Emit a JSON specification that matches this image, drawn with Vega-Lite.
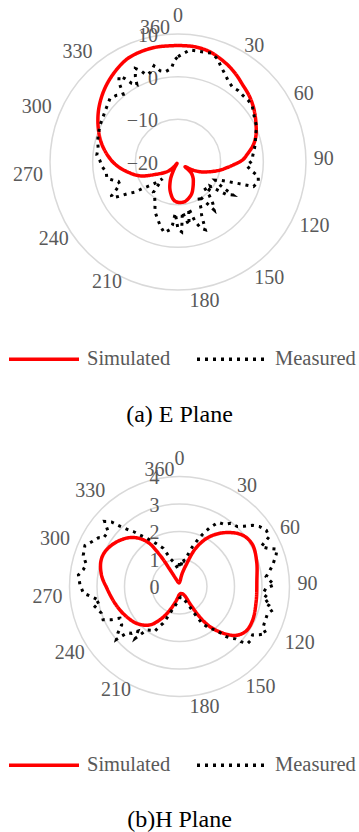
{
  "$schema": "https://vega.github.io/schema/vega-lite/v6.json",
  "padding": 0,
  "spacing": 0,
  "background": "#ffffff",
  "config": {"view": {"stroke": null}, "font": "Times New Roman, Liberation Serif, Times, DejaVu Serif, serif"},
  "datasets": {
    "ticks": [{"deg": 0}, {"deg": 30}, {"deg": 60}, {"deg": 90}, {"deg": 120}, {"deg": 150}, {"deg": 180}, {"deg": 210}, {"deg": 240}, {"deg": 270}, {"deg": 300}, {"deg": 330}, {"deg": 360}],
    "eGrid": [{"v": -20}, {"v": -10}, {"v": 0}, {"v": 10}],
    "hGrid": [{"v": 0}, {"v": 1}, {"v": 2}, {"v": 3}, {"v": 4}],
    "eCurves": [
      {"series": "Simulated", "angle": 0, "value": 7.3}, {"series": "Simulated", "angle": 8, "value": 7.3}, {"series": "Simulated", "angle": 16, "value": 6.9}, {"series": "Simulated", "angle": 26, "value": 5.7}, {"series": "Simulated", "angle": 33, "value": 4.7}, {"series": "Simulated", "angle": 40, "value": 3.6}, {"series": "Simulated", "angle": 47, "value": 2.8}, {"series": "Simulated", "angle": 53, "value": 2.0}, {"series": "Simulated", "angle": 59, "value": 1.1}, {"series": "Simulated", "angle": 65, "value": 0.2}, {"series": "Simulated", "angle": 70, "value": -0.5}, {"series": "Simulated", "angle": 74, "value": -1.2}, {"series": "Simulated", "angle": 78, "value": -2.1}, {"series": "Simulated", "angle": 83, "value": -3.5}, {"series": "Simulated", "angle": 88, "value": -4.8}, {"series": "Simulated", "angle": 93, "value": -7.0}, {"series": "Simulated", "angle": 97, "value": -8.6}, {"series": "Simulated", "angle": 101, "value": -10.0}, {"series": "Simulated", "angle": 107, "value": -12.2}, {"series": "Simulated", "angle": 114, "value": -14.4}, {"series": "Simulated", "angle": 119, "value": -16.3}, {"series": "Simulated", "angle": 124, "value": -18.0}, {"series": "Simulated", "angle": 127, "value": -17.0}, {"series": "Simulated", "angle": 130, "value": -15.9}, {"series": "Simulated", "angle": 137, "value": -14.8}, {"series": "Simulated", "angle": 144, "value": -13.9}, {"series": "Simulated", "angle": 150, "value": -13.0}, {"series": "Simulated", "angle": 156, "value": -12.0}, {"series": "Simulated", "angle": 163, "value": -11.2}, {"series": "Simulated", "angle": 170, "value": -10.6}, {"series": "Simulated", "angle": 177, "value": -10.5}, {"series": "Simulated", "angle": 183, "value": -10.7}, {"series": "Simulated", "angle": 188, "value": -11.3}, {"series": "Simulated", "angle": 196, "value": -13.2}, {"series": "Simulated", "angle": 201, "value": -14.8}, {"series": "Simulated", "angle": 205, "value": -16.2}, {"series": "Simulated", "angle": 210, "value": -18.5}, {"series": "Simulated", "angle": 215, "value": -19.6}, {"series": "Simulated", "angle": 220, "value": -18.5}, {"series": "Simulated", "angle": 226, "value": -17.0}, {"series": "Simulated", "angle": 232, "value": -16.0}, {"series": "Simulated", "angle": 240, "value": -14.3}, {"series": "Simulated", "angle": 250, "value": -10.5}, {"series": "Simulated", "angle": 260, "value": -7.6}, {"series": "Simulated", "angle": 266, "value": -5.8}, {"series": "Simulated", "angle": 273, "value": -4.0}, {"series": "Simulated", "angle": 283, "value": -1.7}, {"series": "Simulated", "angle": 293, "value": 0.3}, {"series": "Simulated", "angle": 304, "value": 2.4}, {"series": "Simulated", "angle": 315, "value": 4.3}, {"series": "Simulated", "angle": 325, "value": 5.8}, {"series": "Simulated", "angle": 334, "value": 6.95}, {"series": "Simulated", "angle": 342, "value": 7.3}, {"series": "Simulated", "angle": 350, "value": 7.4}, {"series": "Simulated", "angle": 360, "value": 7.3},
      {"series": "Measured", "angle": 0, "value": 4.7}, {"series": "Measured", "angle": 3, "value": 5.5}, {"series": "Measured", "angle": 6, "value": 6.4}, {"series": "Measured", "angle": 10, "value": 6.4}, {"series": "Measured", "angle": 14, "value": 6.5}, {"series": "Measured", "angle": 17, "value": 6.7}, {"series": "Measured", "angle": 21, "value": 5.9}, {"series": "Measured", "angle": 24, "value": 4.6}, {"series": "Measured", "angle": 28, "value": 3.4}, {"series": "Measured", "angle": 32, "value": 2.3}, {"series": "Measured", "angle": 36, "value": 1.7}, {"series": "Measured", "angle": 40, "value": 1.9}, {"series": "Measured", "angle": 44, "value": 1.8}, {"series": "Measured", "angle": 49, "value": 1.9}, {"series": "Measured", "angle": 53, "value": 1.8}, {"series": "Measured", "angle": 57, "value": 1.1}, {"series": "Measured", "angle": 61, "value": 0.6}, {"series": "Measured", "angle": 66, "value": 0.2}, {"series": "Measured", "angle": 71, "value": -0.8}, {"series": "Measured", "angle": 76, "value": -1.3}, {"series": "Measured", "angle": 80, "value": -1.8}, {"series": "Measured", "angle": 85, "value": -2.4}, {"series": "Measured", "angle": 89, "value": -2.6}, {"series": "Measured", "angle": 93, "value": -3.9}, {"series": "Measured", "angle": 97, "value": -2.6}, {"series": "Measured", "angle": 100, "value": -0.9}, {"series": "Measured", "angle": 104, "value": -0.6}, {"series": "Measured", "angle": 108, "value": -1.4}, {"series": "Measured", "angle": 109.5, "value": -4.8}, {"series": "Measured", "angle": 111, "value": -7.0}, {"series": "Measured", "angle": 113, "value": -9.0}, {"series": "Measured", "angle": 116, "value": -10.3}, {"series": "Measured", "angle": 119, "value": -8.6}, {"series": "Measured", "angle": 121, "value": -5.0}, {"series": "Measured", "angle": 124, "value": -6.5}, {"series": "Measured", "angle": 127, "value": -10.5}, {"series": "Measured", "angle": 131, "value": -9.5}, {"series": "Measured", "angle": 134, "value": -11.5}, {"series": "Measured", "angle": 137, "value": -9.2}, {"series": "Measured", "angle": 140, "value": -7.3}, {"series": "Measured", "angle": 143, "value": -5.9}, {"series": "Measured", "angle": 146, "value": -9.0}, {"series": "Measured", "angle": 148, "value": -10.8}, {"series": "Measured", "angle": 151, "value": -9.7}, {"series": "Measured", "angle": 154, "value": -7.5}, {"series": "Measured", "angle": 156, "value": -6.4}, {"series": "Measured", "angle": 158, "value": -2.9}, {"series": "Measured", "angle": 161, "value": -3.6}, {"series": "Measured", "angle": 164, "value": -5.5}, {"series": "Measured", "angle": 167, "value": -8.9}, {"series": "Measured", "angle": 170, "value": -5.0}, {"series": "Measured", "angle": 172, "value": -6.3}, {"series": "Measured", "angle": 175, "value": -8.3}, {"series": "Measured", "angle": 177, "value": -3.6}, {"series": "Measured", "angle": 180, "value": -4.2}, {"series": "Measured", "angle": 183, "value": -8.0}, {"series": "Measured", "angle": 185, "value": -5.2}, {"series": "Measured", "angle": 187, "value": -4.0}, {"series": "Measured", "angle": 191, "value": -3.1}, {"series": "Measured", "angle": 195, "value": -4.3}, {"series": "Measured", "angle": 199, "value": -5.6}, {"series": "Measured", "angle": 205, "value": -7.2}, {"series": "Measured", "angle": 209, "value": -8.9}, {"series": "Measured", "angle": 214, "value": -10.2}, {"series": "Measured", "angle": 219, "value": -10.8}, {"series": "Measured", "angle": 223, "value": -14.6}, {"series": "Measured", "angle": 226, "value": -13.2}, {"series": "Measured", "angle": 229, "value": -11.8}, {"series": "Measured", "angle": 233, "value": -9.8}, {"series": "Measured", "angle": 235, "value": -7.7}, {"series": "Measured", "angle": 238, "value": -5.9}, {"series": "Measured", "angle": 240, "value": -3.8}, {"series": "Measured", "angle": 241.5, "value": -2.4}, {"series": "Measured", "angle": 243, "value": -2.5}, {"series": "Measured", "angle": 246, "value": -4.2}, {"series": "Measured", "angle": 249, "value": -5.4}, {"series": "Measured", "angle": 252, "value": -5.3}, {"series": "Measured", "angle": 255, "value": -3.9}, {"series": "Measured", "angle": 257, "value": -2.9}, {"series": "Measured", "angle": 262, "value": -3.0}, {"series": "Measured", "angle": 267, "value": -2.1}, {"series": "Measured", "angle": 271, "value": -1.7}, {"series": "Measured", "angle": 275, "value": -0.9}, {"series": "Measured", "angle": 280, "value": -1.0}, {"series": "Measured", "angle": 284, "value": -0.6}, {"series": "Measured", "angle": 288, "value": -0.3}, {"series": "Measured", "angle": 295, "value": 0.2}, {"series": "Measured", "angle": 301, "value": 0.5}, {"series": "Measured", "angle": 308, "value": 1.15}, {"series": "Measured", "angle": 313, "value": 1.8}, {"series": "Measured", "angle": 317, "value": 1.3}, {"series": "Measured", "angle": 321, "value": 0.4}, {"series": "Measured", "angle": 323.5, "value": 3.3}, {"series": "Measured", "angle": 325.5, "value": 4.4}, {"series": "Measured", "angle": 327.5, "value": 3.2}, {"series": "Measured", "angle": 329.5, "value": 1.4}, {"series": "Measured", "angle": 332, "value": 0.5}, {"series": "Measured", "angle": 333.5, "value": 2.4}, {"series": "Measured", "angle": 335.5, "value": 4.1}, {"series": "Measured", "angle": 338, "value": 3.0}, {"series": "Measured", "angle": 340, "value": 1.7}, {"series": "Measured", "angle": 343, "value": 2.0}, {"series": "Measured", "angle": 346, "value": 3.25}, {"series": "Measured", "angle": 349, "value": 1.75}, {"series": "Measured", "angle": 352, "value": 1.35}, {"series": "Measured", "angle": 356, "value": 2.0}, {"series": "Measured", "angle": 358, "value": 3.9}, {"series": "Measured", "angle": 360, "value": 4.7}
    ],
    "hCurves": [
      {"series": "Simulated", "angle": 0, "value": 0.15}, {"series": "Simulated", "angle": 6, "value": 0.2}, {"series": "Simulated", "angle": 11, "value": 0.45}, {"series": "Simulated", "angle": 17, "value": 0.82}, {"series": "Simulated", "angle": 23, "value": 1.51}, {"series": "Simulated", "angle": 31, "value": 2.11}, {"series": "Simulated", "angle": 41, "value": 2.6}, {"series": "Simulated", "angle": 51, "value": 2.96}, {"series": "Simulated", "angle": 60, "value": 3.06}, {"series": "Simulated", "angle": 72, "value": 2.95}, {"series": "Simulated", "angle": 86, "value": 2.82}, {"series": "Simulated", "angle": 101, "value": 2.84}, {"series": "Simulated", "angle": 115, "value": 2.93}, {"series": "Simulated", "angle": 124, "value": 2.91}, {"series": "Simulated", "angle": 131, "value": 2.71}, {"series": "Simulated", "angle": 137, "value": 2.32}, {"series": "Simulated", "angle": 143, "value": 1.82}, {"series": "Simulated", "angle": 146.5, "value": 1.31}, {"series": "Simulated", "angle": 148.5, "value": 0.79}, {"series": "Simulated", "angle": 151, "value": 0.36}, {"series": "Simulated", "angle": 160, "value": 0.28}, {"series": "Simulated", "angle": 172, "value": 0.26}, {"series": "Simulated", "angle": 182, "value": 0.3}, {"series": "Simulated", "angle": 188, "value": 0.4}, {"series": "Simulated", "angle": 192, "value": 0.5}, {"series": "Simulated", "angle": 202, "value": 0.92}, {"series": "Simulated", "angle": 209, "value": 1.32}, {"series": "Simulated", "angle": 217.5, "value": 1.76}, {"series": "Simulated", "angle": 229, "value": 2.05}, {"series": "Simulated", "angle": 242, "value": 2.24}, {"series": "Simulated", "angle": 255, "value": 2.42}, {"series": "Simulated", "angle": 269, "value": 2.65}, {"series": "Simulated", "angle": 278, "value": 2.86}, {"series": "Simulated", "angle": 287.5, "value": 3.0}, {"series": "Simulated", "angle": 295, "value": 2.99}, {"series": "Simulated", "angle": 305.5, "value": 2.8}, {"series": "Simulated", "angle": 316, "value": 2.48}, {"series": "Simulated", "angle": 324, "value": 2.02}, {"series": "Simulated", "angle": 328, "value": 1.35}, {"series": "Simulated", "angle": 330.5, "value": 0.69}, {"series": "Simulated", "angle": 335, "value": 0.3}, {"series": "Simulated", "angle": 345, "value": 0.15}, {"series": "Simulated", "angle": 355, "value": 0.13}, {"series": "Simulated", "angle": 360, "value": 0.15},
      {"series": "Measured", "angle": 0, "value": 0.85}, {"series": "Measured", "angle": 3, "value": 0.67}, {"series": "Measured", "angle": 6.5, "value": 1.03}, {"series": "Measured", "angle": 10, "value": 0.95}, {"series": "Measured", "angle": 14.5, "value": 1.18}, {"series": "Measured", "angle": 18, "value": 1.52}, {"series": "Measured", "angle": 22, "value": 1.9}, {"series": "Measured", "angle": 24, "value": 2.09}, {"series": "Measured", "angle": 27, "value": 2.38}, {"series": "Measured", "angle": 31, "value": 2.72}, {"series": "Measured", "angle": 36, "value": 2.79}, {"series": "Measured", "angle": 39, "value": 2.96}, {"series": "Measured", "angle": 44, "value": 3.03}, {"series": "Measured", "angle": 47, "value": 3.21}, {"series": "Measured", "angle": 50, "value": 3.46}, {"series": "Measured", "angle": 53, "value": 3.63}, {"series": "Measured", "angle": 57, "value": 3.76}, {"series": "Measured", "angle": 61, "value": 3.73}, {"series": "Measured", "angle": 62.5, "value": 3.49}, {"series": "Measured", "angle": 64, "value": 3.3}, {"series": "Measured", "angle": 66.5, "value": 3.49}, {"series": "Measured", "angle": 69, "value": 3.8}, {"series": "Measured", "angle": 72, "value": 3.69}, {"series": "Measured", "angle": 77, "value": 3.48}, {"series": "Measured", "angle": 80.5, "value": 3.31}, {"series": "Measured", "angle": 83.5, "value": 3.17}, {"series": "Measured", "angle": 87, "value": 3.33}, {"series": "Measured", "angle": 89, "value": 3.45}, {"series": "Measured", "angle": 91, "value": 3.15}, {"series": "Measured", "angle": 95, "value": 3.04}, {"series": "Measured", "angle": 98, "value": 3.3}, {"series": "Measured", "angle": 101, "value": 3.14}, {"series": "Measured", "angle": 102, "value": 3.33}, {"series": "Measured", "angle": 104, "value": 3.5}, {"series": "Measured", "angle": 107, "value": 3.35}, {"series": "Measured", "angle": 110, "value": 3.35}, {"series": "Measured", "angle": 113.5, "value": 3.36}, {"series": "Measured", "angle": 116.5, "value": 3.39}, {"series": "Measured", "angle": 118.5, "value": 3.58}, {"series": "Measured", "angle": 121, "value": 3.4}, {"series": "Measured", "angle": 123.5, "value": 3.19}, {"series": "Measured", "angle": 127, "value": 3.25}, {"series": "Measured", "angle": 130, "value": 3.23}, {"series": "Measured", "angle": 132, "value": 3.0}, {"series": "Measured", "angle": 133, "value": 2.79}, {"series": "Measured", "angle": 135, "value": 2.66}, {"series": "Measured", "angle": 137, "value": 2.49}, {"series": "Measured", "angle": 140, "value": 2.07}, {"series": "Measured", "angle": 144.5, "value": 1.87}, {"series": "Measured", "angle": 147, "value": 1.67}, {"series": "Measured", "angle": 148.5, "value": 1.6}, {"series": "Measured", "angle": 150, "value": 1.3}, {"series": "Measured", "angle": 151.5, "value": 1.06}, {"series": "Measured", "angle": 153, "value": 0.84}, {"series": "Measured", "angle": 157, "value": 0.6}, {"series": "Measured", "angle": 165, "value": 0.44}, {"series": "Measured", "angle": 172, "value": 0.38}, {"series": "Measured", "angle": 181, "value": 0.43}, {"series": "Measured", "angle": 189.5, "value": 0.62}, {"series": "Measured", "angle": 196, "value": 0.82}, {"series": "Measured", "angle": 199.5, "value": 1.03}, {"series": "Measured", "angle": 202, "value": 1.25}, {"series": "Measured", "angle": 204, "value": 1.46}, {"series": "Measured", "angle": 207, "value": 1.65}, {"series": "Measured", "angle": 209, "value": 1.87}, {"series": "Measured", "angle": 213, "value": 1.9}, {"series": "Measured", "angle": 217, "value": 1.98}, {"series": "Measured", "angle": 220.5, "value": 2.48}, {"series": "Measured", "angle": 223, "value": 2.22}, {"series": "Measured", "angle": 225.5, "value": 2.43}, {"series": "Measured", "angle": 228.5, "value": 2.53}, {"series": "Measured", "angle": 230, "value": 3.0}, {"series": "Measured", "angle": 233, "value": 2.8}, {"series": "Measured", "angle": 236.5, "value": 2.52}, {"series": "Measured", "angle": 242, "value": 2.45}, {"series": "Measured", "angle": 244, "value": 2.75}, {"series": "Measured", "angle": 246.5, "value": 3.03}, {"series": "Measured", "angle": 251, "value": 3.0}, {"series": "Measured", "angle": 254, "value": 3.07}, {"series": "Measured", "angle": 258, "value": 3.21}, {"series": "Measured", "angle": 259.5, "value": 2.94}, {"series": "Measured", "angle": 262, "value": 3.1}, {"series": "Measured", "angle": 264, "value": 3.28}, {"series": "Measured", "angle": 266, "value": 3.5}, {"series": "Measured", "angle": 271, "value": 3.62}, {"series": "Measured", "angle": 276.5, "value": 3.7}, {"series": "Measured", "angle": 280, "value": 3.55}, {"series": "Measured", "angle": 283.5, "value": 3.49}, {"series": "Measured", "angle": 288, "value": 3.68}, {"series": "Measured", "angle": 293.5, "value": 3.75}, {"series": "Measured", "angle": 297, "value": 3.58}, {"series": "Measured", "angle": 301, "value": 3.44}, {"series": "Measured", "angle": 302.5, "value": 3.28}, {"series": "Measured", "angle": 307.5, "value": 3.27}, {"series": "Measured", "angle": 311, "value": 3.61}, {"series": "Measured", "angle": 313.5, "value": 3.41}, {"series": "Measured", "angle": 315.5, "value": 3.07}, {"series": "Measured", "angle": 318, "value": 2.77}, {"series": "Measured", "angle": 320, "value": 2.61}, {"series": "Measured", "angle": 322.5, "value": 2.36}, {"series": "Measured", "angle": 326, "value": 2.12}, {"series": "Measured", "angle": 329.5, "value": 1.89}, {"series": "Measured", "angle": 333, "value": 1.69}, {"series": "Measured", "angle": 337, "value": 1.51}, {"series": "Measured", "angle": 339, "value": 1.29}, {"series": "Measured", "angle": 341.5, "value": 1.08}, {"series": "Measured", "angle": 346, "value": 0.93}, {"series": "Measured", "angle": 352, "value": 0.73}, {"series": "Measured", "angle": 356, "value": 0.62}, {"series": "Measured", "angle": 360, "value": 0.85}
    ]
  },
  "resolve": {
    "scale": {"x": "independent", "y": "independent", "color": "independent", "strokeDash": "independent", "size": "independent"},
    "legend": {"color": "independent", "strokeDash": "independent"}
  },
  "vconcat": [
    {
      "width": 359,
      "height": 385,
      "title": {"text": "(a) E Plane", "orient": "bottom", "anchor": "middle", "offset": 18, "font": "Times New Roman, Liberation Serif, Times, DejaVu Serif, serif", "fontSize": 24, "fontWeight": "normal", "color": "#000000"},
      "layer": [
        {
          "data": {"name": "eGrid"},
          "transform": [{"filter": "datum.v > -20"}, {"calculate": "(datum.v + 20) / 30", "as": "rn"}],
          "mark": {"type": "point", "shape": "circle", "filled": false, "stroke": "#d9d9d9", "strokeWidth": 1.5, "opacity": 1},
          "encoding": {
            "x": {"datum": 0, "type": "quantitative", "scale": {"domain": [-1.3906, 1.4141], "nice": false, "zero": false}, "axis": null},
            "y": {"datum": 0, "type": "quantitative", "scale": {"domain": [-1.7422, 1.2656], "nice": false, "zero": false}, "axis": null},
            "size": {"field": "rn", "type": "quantitative", "scale": {"type": "pow", "exponent": 2, "domain": [0, 1], "range": [0, 65536]}, "legend": null}
          }
        },
        {
          "data": {"name": "eGrid"},
          "transform": [{"calculate": "(datum.v + 20) / 30", "as": "rn"}],
          "mark": {"type": "text", "align": "right", "baseline": "middle", "dx": -20, "dy": 2, "fontSize": 20, "color": "#595959"},
          "encoding": {
            "x": {"datum": 0, "type": "quantitative", "scale": {"domain": [-1.3906, 1.4141], "nice": false, "zero": false}, "axis": null},
            "y": {"field": "rn", "type": "quantitative", "scale": {"domain": [-1.7422, 1.2656], "nice": false, "zero": false}, "axis": null},
            "text": {"field": "v", "type": "quantitative"}
          }
        },
        {
          "data": {"name": "ticks"},
          "transform": [{"filter": "datum.deg == 0"}, {"calculate": "datum.deg * 360 / 370 * PI / 180", "as": "t"}, {"calculate": "1.0625 * sin(datum.t)", "as": "px"}, {"calculate": "1.0625 * cos(datum.t)", "as": "py"}],
          "mark": {"type": "text", "align": "center", "baseline": "bottom", "fontSize": 20, "color": "#595959"},
          "encoding": {
            "x": {"field": "px", "type": "quantitative", "scale": {"domain": [-1.3906, 1.4141], "nice": false, "zero": false}, "axis": null},
            "y": {"field": "py", "type": "quantitative", "scale": {"domain": [-1.7422, 1.2656], "nice": false, "zero": false}, "axis": null},
            "text": {"field": "deg", "type": "quantitative"}
          }
        },
        {
          "data": {"name": "ticks"},
          "transform": [{"filter": "datum.deg == 360"}, {"calculate": "datum.deg * 360 / 370 * PI / 180", "as": "t"}, {"calculate": "1.0625 * sin(datum.t)", "as": "px"}, {"calculate": "1.0625 * cos(datum.t)", "as": "py"}],
          "mark": {"type": "text", "align": "center", "baseline": "middle", "fontSize": 20, "color": "#595959"},
          "encoding": {
            "x": {"field": "px", "type": "quantitative", "scale": {"domain": [-1.3906, 1.4141], "nice": false, "zero": false}, "axis": null},
            "y": {"field": "py", "type": "quantitative", "scale": {"domain": [-1.7422, 1.2656], "nice": false, "zero": false}, "axis": null},
            "text": {"field": "deg", "type": "quantitative"}
          }
        },
        {
          "data": {"name": "ticks"},
          "transform": [{"filter": "datum.deg > 0 && datum.deg <= 180"}, {"calculate": "datum.deg * 360 / 370 * PI / 180", "as": "t"}, {"calculate": "1.0625 * sin(datum.t)", "as": "px"}, {"calculate": "1.0625 * cos(datum.t)", "as": "py"}],
          "mark": {"type": "text", "align": "left", "baseline": "middle", "dy": 3, "fontSize": 20, "color": "#595959"},
          "encoding": {
            "x": {"field": "px", "type": "quantitative", "scale": {"domain": [-1.3906, 1.4141], "nice": false, "zero": false}, "axis": null},
            "y": {"field": "py", "type": "quantitative", "scale": {"domain": [-1.7422, 1.2656], "nice": false, "zero": false}, "axis": null},
            "text": {"field": "deg", "type": "quantitative"}
          }
        },
        {
          "data": {"name": "ticks"},
          "transform": [{"filter": "datum.deg > 180 && datum.deg < 360"}, {"calculate": "datum.deg * 360 / 370 * PI / 180", "as": "t"}, {"calculate": "1.0625 * sin(datum.t)", "as": "px"}, {"calculate": "1.0625 * cos(datum.t)", "as": "py"}],
          "mark": {"type": "text", "align": "right", "baseline": "middle", "dy": -4, "fontSize": 20, "color": "#595959"},
          "encoding": {
            "x": {"field": "px", "type": "quantitative", "scale": {"domain": [-1.3906, 1.4141], "nice": false, "zero": false}, "axis": null},
            "y": {"field": "py", "type": "quantitative", "scale": {"domain": [-1.7422, 1.2656], "nice": false, "zero": false}, "axis": null},
            "text": {"field": "deg", "type": "quantitative"}
          }
        },
        {
          "data": {"name": "eCurves"},
          "transform": [{"filter": "datum.series == 'Simulated'"}, {"calculate": "(datum.value + 20) / 30", "as": "rn"}, {"calculate": "datum.rn * sin(datum.angle * PI / 180)", "as": "px"}, {"calculate": "datum.rn * cos(datum.angle * PI / 180)", "as": "py"}],
          "mark": {"type": "line", "interpolate": "catmull-rom", "strokeWidth": 3.5, "strokeJoin": "round"},
          "encoding": {
            "x": {"field": "px", "type": "quantitative", "scale": {"domain": [-1.3906, 1.4141], "nice": false, "zero": false}, "axis": null},
            "y": {"field": "py", "type": "quantitative", "scale": {"domain": [-1.7422, 1.2656], "nice": false, "zero": false}, "axis": null},
            "order": {"field": "angle", "type": "quantitative"},
            "color": {"field": "series", "type": "nominal", "scale": {"domain": ["Simulated", "Measured"], "range": ["#ff0000", "#000000"]}, "legend": {"title": null, "orient": "none", "legendX": 7, "legendY": 322, "direction": "horizontal", "symbolType": "stroke", "symbolSize": 4900, "symbolStrokeWidth": 3.5, "labelFontSize": 20.5, "labelColor": "#595959", "labelOffset": 6, "columnPadding": 19, "padding": 0}},
            "strokeDash": {"field": "series", "type": "nominal", "scale": {"domain": ["Simulated", "Measured"], "range": [[1, 0], [3, 5]]}, "legend": {"title": null, "orient": "none", "legendX": 7, "legendY": 322, "direction": "horizontal", "symbolType": "stroke", "symbolSize": 4900, "symbolStrokeWidth": 3.5, "labelFontSize": 20.5, "labelColor": "#595959", "labelOffset": 6, "columnPadding": 19, "padding": 0}}
          }
        },
        {
          "data": {"name": "eCurves"},
          "transform": [{"filter": "datum.series == 'Measured'"}, {"calculate": "(datum.value + 20) / 30", "as": "rn"}, {"calculate": "datum.rn * sin(datum.angle * PI / 180)", "as": "px"}, {"calculate": "datum.rn * cos(datum.angle * PI / 180)", "as": "py"}],
          "mark": {"type": "line", "interpolate": "linear", "strokeWidth": 3},
          "encoding": {
            "x": {"field": "px", "type": "quantitative", "scale": {"domain": [-1.3906, 1.4141], "nice": false, "zero": false}, "axis": null},
            "y": {"field": "py", "type": "quantitative", "scale": {"domain": [-1.7422, 1.2656], "nice": false, "zero": false}, "axis": null},
            "order": {"field": "angle", "type": "quantitative"},
            "color": {"field": "series", "type": "nominal", "scale": {"domain": ["Simulated", "Measured"], "range": ["#ff0000", "#000000"]}},
            "strokeDash": {"field": "series", "type": "nominal", "scale": {"domain": ["Simulated", "Measured"], "range": [[1, 0], [3, 5]]}}
          }
        }
      ]
    },
    {
      "width": 359,
      "height": 365,
      "title": {"text": "(b)H Plane", "orient": "bottom", "anchor": "middle", "offset": 16, "font": "Times New Roman, Liberation Serif, Times, DejaVu Serif, serif", "fontSize": 24, "fontWeight": "normal", "color": "#000000"},
      "layer": [
        {
          "data": {"name": "hGrid"},
          "transform": [{"filter": "datum.v > 0"}, {"calculate": "datum.v / 4", "as": "rn"}],
          "mark": {"type": "point", "shape": "circle", "filled": false, "stroke": "#d9d9d9", "strokeWidth": 1.5, "opacity": 1},
          "encoding": {
            "x": {"datum": 0, "type": "quantitative", "scale": {"domain": [-1.6318, 1.6318], "nice": false, "zero": false}, "axis": null},
            "y": {"datum": 0, "type": "quantitative", "scale": {"domain": [-1.8682, 1.45], "nice": false, "zero": false}, "axis": null},
            "size": {"field": "rn", "type": "quantitative", "scale": {"type": "pow", "exponent": 2, "domain": [0, 1], "range": [0, 48400]}, "legend": null}
          }
        },
        {
          "data": {"name": "hGrid"},
          "transform": [{"calculate": "datum.v / 4", "as": "rn"}],
          "mark": {"type": "text", "align": "right", "baseline": "middle", "dx": -20, "dy": 2, "fontSize": 20, "color": "#595959"},
          "encoding": {
            "x": {"datum": 0, "type": "quantitative", "scale": {"domain": [-1.6318, 1.6318], "nice": false, "zero": false}, "axis": null},
            "y": {"field": "rn", "type": "quantitative", "scale": {"domain": [-1.8682, 1.45], "nice": false, "zero": false}, "axis": null},
            "text": {"field": "v", "type": "quantitative"}
          }
        },
        {
          "data": {"name": "ticks"},
          "transform": [{"filter": "datum.deg == 0"}, {"calculate": "datum.deg * 360 / 370 * PI / 180", "as": "t"}, {"calculate": "1.0727 * sin(datum.t)", "as": "px"}, {"calculate": "1.0727 * cos(datum.t)", "as": "py"}],
          "mark": {"type": "text", "align": "center", "baseline": "bottom", "fontSize": 20, "color": "#595959"},
          "encoding": {
            "x": {"field": "px", "type": "quantitative", "scale": {"domain": [-1.6318, 1.6318], "nice": false, "zero": false}, "axis": null},
            "y": {"field": "py", "type": "quantitative", "scale": {"domain": [-1.8682, 1.45], "nice": false, "zero": false}, "axis": null},
            "text": {"field": "deg", "type": "quantitative"}
          }
        },
        {
          "data": {"name": "ticks"},
          "transform": [{"filter": "datum.deg == 360"}, {"calculate": "datum.deg * 360 / 370 * PI / 180", "as": "t"}, {"calculate": "1.0727 * sin(datum.t)", "as": "px"}, {"calculate": "1.0727 * cos(datum.t)", "as": "py"}],
          "mark": {"type": "text", "align": "center", "baseline": "middle", "fontSize": 20, "color": "#595959"},
          "encoding": {
            "x": {"field": "px", "type": "quantitative", "scale": {"domain": [-1.6318, 1.6318], "nice": false, "zero": false}, "axis": null},
            "y": {"field": "py", "type": "quantitative", "scale": {"domain": [-1.8682, 1.45], "nice": false, "zero": false}, "axis": null},
            "text": {"field": "deg", "type": "quantitative"}
          }
        },
        {
          "data": {"name": "ticks"},
          "transform": [{"filter": "datum.deg > 0 && datum.deg <= 180"}, {"calculate": "datum.deg * 360 / 370 * PI / 180", "as": "t"}, {"calculate": "1.0727 * sin(datum.t)", "as": "px"}, {"calculate": "1.0727 * cos(datum.t)", "as": "py"}],
          "mark": {"type": "text", "align": "left", "baseline": "middle", "dy": 3, "fontSize": 20, "color": "#595959"},
          "encoding": {
            "x": {"field": "px", "type": "quantitative", "scale": {"domain": [-1.6318, 1.6318], "nice": false, "zero": false}, "axis": null},
            "y": {"field": "py", "type": "quantitative", "scale": {"domain": [-1.8682, 1.45], "nice": false, "zero": false}, "axis": null},
            "text": {"field": "deg", "type": "quantitative"}
          }
        },
        {
          "data": {"name": "ticks"},
          "transform": [{"filter": "datum.deg > 180 && datum.deg < 360"}, {"calculate": "datum.deg * 360 / 370 * PI / 180", "as": "t"}, {"calculate": "1.0727 * sin(datum.t)", "as": "px"}, {"calculate": "1.0727 * cos(datum.t)", "as": "py"}],
          "mark": {"type": "text", "align": "right", "baseline": "middle", "dy": -4, "fontSize": 20, "color": "#595959"},
          "encoding": {
            "x": {"field": "px", "type": "quantitative", "scale": {"domain": [-1.6318, 1.6318], "nice": false, "zero": false}, "axis": null},
            "y": {"field": "py", "type": "quantitative", "scale": {"domain": [-1.8682, 1.45], "nice": false, "zero": false}, "axis": null},
            "text": {"field": "deg", "type": "quantitative"}
          }
        },
        {
          "data": {"name": "hCurves"},
          "transform": [{"filter": "datum.series == 'Simulated'"}, {"calculate": "datum.value / 4", "as": "rn"}, {"calculate": "datum.rn * sin(datum.angle * PI / 180)", "as": "px"}, {"calculate": "datum.rn * cos(datum.angle * PI / 180)", "as": "py"}],
          "mark": {"type": "line", "interpolate": "catmull-rom", "strokeWidth": 3.5, "strokeJoin": "round"},
          "encoding": {
            "x": {"field": "px", "type": "quantitative", "scale": {"domain": [-1.6318, 1.6318], "nice": false, "zero": false}, "axis": null},
            "y": {"field": "py", "type": "quantitative", "scale": {"domain": [-1.8682, 1.45], "nice": false, "zero": false}, "axis": null},
            "order": {"field": "angle", "type": "quantitative"},
            "color": {"field": "series", "type": "nominal", "scale": {"domain": ["Simulated", "Measured"], "range": ["#ff0000", "#000000"]}, "legend": {"title": null, "orient": "none", "legendX": 7, "legendY": 301, "direction": "horizontal", "symbolType": "stroke", "symbolSize": 4900, "symbolStrokeWidth": 3.5, "labelFontSize": 20.5, "labelColor": "#595959", "labelOffset": 6, "columnPadding": 19, "padding": 0}},
            "strokeDash": {"field": "series", "type": "nominal", "scale": {"domain": ["Simulated", "Measured"], "range": [[1, 0], [3, 5]]}, "legend": {"title": null, "orient": "none", "legendX": 7, "legendY": 301, "direction": "horizontal", "symbolType": "stroke", "symbolSize": 4900, "symbolStrokeWidth": 3.5, "labelFontSize": 20.5, "labelColor": "#595959", "labelOffset": 6, "columnPadding": 19, "padding": 0}}
          }
        },
        {
          "data": {"name": "hCurves"},
          "transform": [{"filter": "datum.series == 'Measured'"}, {"calculate": "datum.value / 4", "as": "rn"}, {"calculate": "datum.rn * sin(datum.angle * PI / 180)", "as": "px"}, {"calculate": "datum.rn * cos(datum.angle * PI / 180)", "as": "py"}],
          "mark": {"type": "line", "interpolate": "linear", "strokeWidth": 3},
          "encoding": {
            "x": {"field": "px", "type": "quantitative", "scale": {"domain": [-1.6318, 1.6318], "nice": false, "zero": false}, "axis": null},
            "y": {"field": "py", "type": "quantitative", "scale": {"domain": [-1.8682, 1.45], "nice": false, "zero": false}, "axis": null},
            "order": {"field": "angle", "type": "quantitative"},
            "color": {"field": "series", "type": "nominal", "scale": {"domain": ["Simulated", "Measured"], "range": ["#ff0000", "#000000"]}},
            "strokeDash": {"field": "series", "type": "nominal", "scale": {"domain": ["Simulated", "Measured"], "range": [[1, 0], [3, 5]]}}
          }
        }
      ]
    }
  ]
}
